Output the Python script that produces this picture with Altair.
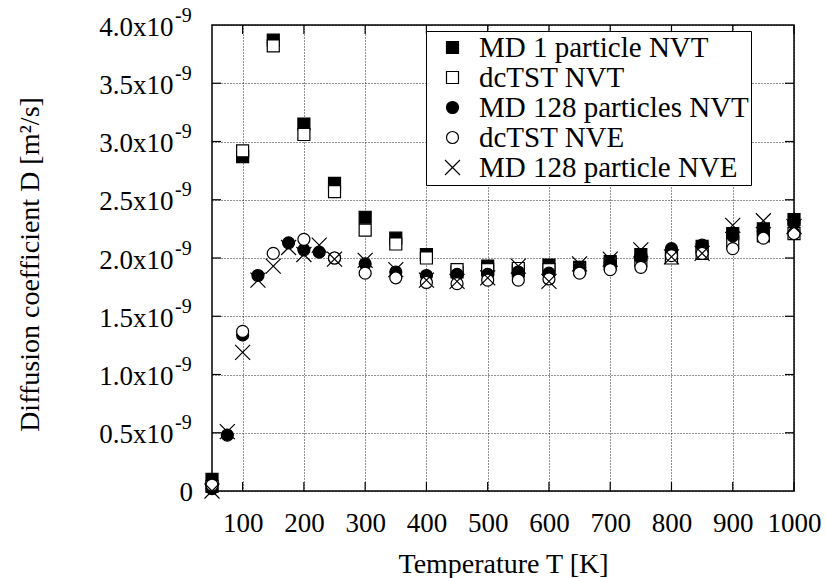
import altair as alt
import pandas as pd

# ---------------- data (D in units of 1e-9 m^2/s) ----------------
series_names = ["MD 1 particle NVT", "dcTST NVT", "MD 128 particles NVT",
                "dcTST NVE", "MD 128 particle NVE"]

md1_nvt_T = [50, 100, 150, 200, 250, 300, 350, 400, 450, 500, 550, 600, 650, 700, 750, 800, 850, 900, 950, 1000]
md1_nvt_D = [0.10, 2.87, 3.87, 3.15, 2.64, 2.35, 2.17, 2.03, 1.88, 1.93, 1.89, 1.94, 1.92, 1.97, 2.03, 2.01, 2.10, 2.21, 2.25, 2.33]

dctst_nvt_T = [50, 100, 150, 200, 250, 300, 350, 400, 450, 500, 550, 600, 650, 700, 750, 800, 850, 900, 950, 1000]
dctst_nvt_D = [0.04, 2.92, 3.82, 3.06, 2.57, 2.24, 2.12, 2.00, 1.90, 1.90, 1.91, 1.90, 1.91, 1.95, 1.98, 2.00, 2.04, 2.13, 2.19, 2.21]

md128_nvt_T = [50, 75, 100, 125, 175, 200, 225, 250, 300, 350, 400, 450, 500, 550, 600, 650, 700, 750, 800, 850, 900, 950, 1000]
md128_nvt_D = [0.02, 0.48, 1.34, 1.85, 2.13, 2.07, 2.05, 2.00, 1.95, 1.88, 1.85, 1.86, 1.86, 1.88, 1.87, 1.92, 1.96, 2.00, 2.08, 2.11, 2.19, 2.23, 2.30]

dctst_nve_T = [50, 100, 150, 200, 250, 300, 350, 400, 450, 500, 550, 600, 650, 700, 750, 800, 850, 900, 950, 1000]
dctst_nve_D = [0.05, 1.37, 2.04, 2.16, 2.00, 1.87, 1.83, 1.79, 1.78, 1.81, 1.81, 1.82, 1.87, 1.90, 1.92, 2.02, 2.04, 2.08, 2.17, 2.21]

md128_nve_T = [50, 75, 100, 125, 150, 175, 200, 225, 250, 300, 350, 400, 450, 500, 550, 600, 650, 700, 750, 800, 850, 900, 950, 1000]
md128_nve_D = [0.00, 0.51, 1.19, 1.81, 1.93, 2.09, 2.03, 2.11, 1.99, 1.98, 1.90, 1.81, 1.80, 1.83, 1.93, 1.80, 1.95, 1.99, 2.07, 2.01, 2.04, 2.28, 2.32, 2.27]

x_ticks = [100, 200, 300, 400, 500, 600, 700, 800, 900, 1000]
y_ticks = [0, 0.5, 1.0, 1.5, 2.0, 2.5, 3.0, 3.5, 4.0]
y_inner_ticks = [0.5, 1.0, 1.5, 2.0, 2.5, 3.0, 3.5]

# ---------------- tables ----------------
rows = []
for name, Ts, Ds in zip(series_names,
                        [md1_nvt_T, dctst_nvt_T, md128_nvt_T, dctst_nve_T, md128_nve_T],
                        [md1_nvt_D, dctst_nvt_D, md128_nvt_D, dctst_nve_D, md128_nve_D]):
    for t, d in zip(Ts, Ds):
        rows.append({"series": name, "T": t, "D": d})
df = pd.DataFrame(rows)

xt_df = pd.DataFrame({"T": x_ticks})
yt_df = pd.DataFrame({"D": y_inner_ticks})
sup_df = pd.DataFrame({"D": [v for v in y_ticks if v > 0], "sup": ["-9"] * (len(y_ticks) - 1)})
zero_df = pd.DataFrame({"D": [0], "lab": ["0"]})

W, H = 582, 466
FONT = "Liberation Serif"

xscale = alt.Scale(domain=[50, 1000], nice=False, zero=False)
yscale = alt.Scale(domain=[0, 4], nice=False, zero=False)

xaxis = alt.Axis(values=x_ticks, format="d", title="Temperature T [K]",
                 grid=True, ticks=False, tickSize=0, domain=False,
                 labelPadding=19, labelFlush=False, labelOverlap=False,
                 titleY=81, titleBaseline="alphabetic")
yaxis = alt.Axis(values=y_ticks, title="Diffusion coefficient D [m²/s]",
                 labelExpr="datum.value == 0 ? '' : format(datum.value, '.1f') + 'x10'",
                 grid=True, ticks=False, tickSize=0, domain=False,
                 labelPadding=39, labelOffset=2, labelFlush=False, labelOverlap=False,
                 titleX=-174, titleY=239, titleBaseline="alphabetic", titleAngle=-90)

X = alt.X("T:Q", scale=xscale, axis=xaxis)
Y = alt.Y("D:Q", scale=yscale, axis=yaxis)

xshape = "M-1.25,-1.25L1.25,1.25M-1.25,1.25L1.25,-1.25"

legend = alt.Legend(title=None, orient="none", legendX=214, legendY=6,
                    strokeColor="black", padding=2, fillColor="white",
                    labelFont=FONT, labelFontSize=29, labelColor="black",
                    labelLimit=500, rowPadding=0,
                    symbolOffset=10, labelOffset=12,
                    symbolStrokeWidth=1.2)

points = alt.Chart(df).mark_point(filled=False, strokeWidth=1.2, opacity=1).encode(
    x=X, y=Y,
    shape=alt.Shape("series:N", scale=alt.Scale(domain=series_names,
                    range=["square", "square", "circle", "circle", xshape]), legend=legend),
    fill=alt.Fill("series:N", scale=alt.Scale(domain=series_names,
                  range=["black", "white", "black", "white", "transparent"]), legend=legend),
    stroke=alt.Stroke("series:N", scale=alt.Scale(domain=series_names,
                      range=["black", "black", "black", "black", "black"]), legend=legend),
    size=alt.Size("series:N", scale=alt.Scale(domain=series_names,
                  range=[144, 144, 113, 113, 144]), legend=legend),
)

tick_bottom = alt.Chart(xt_df).mark_rule(color="black", strokeWidth=1.2).encode(
    x=X, y=alt.value(H - 9), y2=alt.value(H))
tick_top = alt.Chart(xt_df).mark_rule(color="black", strokeWidth=1.2).encode(
    x=X, y=alt.value(0), y2=alt.value(9))
tick_left = alt.Chart(yt_df).mark_rule(color="black", strokeWidth=1.2).encode(
    y=Y, x=alt.value(0), x2=alt.value(9))
tick_right = alt.Chart(yt_df).mark_rule(color="black", strokeWidth=1.2).encode(
    y=Y, x=alt.value(W - 9), x2=alt.value(W))

sup = alt.Chart(sup_df).mark_text(font=FONT, fontSize=20, align="left", baseline="middle",
                                  dy=-9.5, color="black").encode(
    y=Y, x=alt.value(-37), text="sup:N")
zero = alt.Chart(zero_df).mark_text(font=FONT, fontSize=27, align="right", baseline="middle",
                                    dy=2, color="black").encode(
    y=Y, x=alt.value(-19), text="lab:N")

chart = alt.layer(tick_bottom, tick_top, tick_left, tick_right, points, sup, zero).properties(
    width=W, height=H,
    autosize=alt.AutoSizeParams(type="none"),
    padding={"left": 212, "top": 25, "right": 826 - 212 - W, "bottom": 578 - 25 - H},
    background="white",
).configure_view(
    stroke="black", strokeWidth=1.5
).configure_axis(
    labelFont=FONT, labelFontSize=27, labelColor="black",
    titleFont=FONT, titleFontSize=28, titleFontWeight="normal", titleColor="black",
    gridColor="black", gridDash=[1, 2], gridWidth=1, gridOpacity=0.85,
)

chart.save("out.html", embed_options={"renderer": "svg", "actions": False})
